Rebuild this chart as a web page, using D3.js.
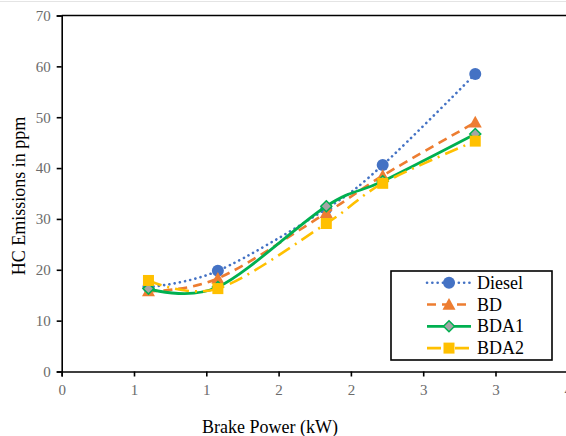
<!DOCTYPE html>
<html>
<head>
<meta charset="utf-8">
<script src="https://cdn.jsdelivr.net/npm/d3@7/dist/d3.min.js"></script>
<style>
  html, body { margin: 0; padding: 0; background: #fff; }
</style>
</head>
<body>
<svg id="chart" width="566" height="436"></svg>
<script>
// Brake power (kW) at each test load
const brakePower = [0.6, 1.08, 1.83, 2.22, 2.86];

// HC emissions (ppm) for each fuel
const diesel = [16.6, 19.8, 32.0, 40.6, 58.5];
const bd     = [15.8, 18.3, 31.2, 38.5, 49.0];
const bda1   = [16.3, 16.6, 32.5, 37.4, 46.7];
const bda2   = [17.9, 16.3, 29.1, 37.0, 45.3];

const seriesNames = ["Diesel", "BD", "BDA1", "BDA2"];

const xTicks = [0, 0.5, 1, 1.5, 2, 2.5, 3, 3.5];
const xTickLabels = ["0", "1", "1", "2", "2", "3", "3", "4"];
const yTicks = [0, 10, 20, 30, 40, 50, 60, 70];

const serif = "Liberation Serif";

const series = [
  { name: seriesNames[0], values: diesel, color: "#4472C4", dash: "0.1 5.2", cap: "round", width: 2.6, marker: "circle" },
  { name: seriesNames[1], values: bd,     color: "#ED7D31", dash: "9 6",     cap: "butt",  width: 2.6, marker: "triangle" },
  { name: seriesNames[2], values: bda1,   color: "#00B050", dash: null,      cap: "butt",  width: 2.8, marker: "diamond" },
  { name: seriesNames[3], values: bda2,   color: "#FFC000", dash: "14 6 2 6", cap: "butt", width: 2.6, marker: "square" }
];

const svg = d3.select("#chart");

const x = d3.scaleLinear().domain([0, 3.5]).range([61.7, 567.8]);
const y = d3.scaleLinear().domain([0, 70]).range([371.5, 15.5]);

// faint rule along the top edge
svg.append("line").attr("x1", 0).attr("x2", 566).attr("y1", 1.5).attr("y2", 1.5)
  .attr("stroke", "#e4e4e4").attr("stroke-width", 1);

// plot frame (top and right edges)
svg.append("path")
  .attr("d", `M${x(0)},${y(70)}H${x(3.5)}V${y(0)}`)
  .attr("fill", "none").attr("stroke", "#000").attr("stroke-width", 1.6);

// axes
const xAxis = svg.append("g").attr("transform", `translate(0,${y(0)})`)
  .call(d3.axisBottom(x).tickValues(xTicks).tickFormat((d, i) => xTickLabels[i]).tickSize(5).tickPadding(8));
const yAxis = svg.append("g").attr("transform", `translate(${x(0)},0)`)
  .call(d3.axisLeft(y).tickValues(yTicks).tickSize(5).tickPadding(6));

[xAxis, yAxis].forEach(g => {
  g.attr("font-family", serif).attr("font-size", 15);
  g.select(".domain").attr("stroke", "#000").attr("stroke-width", 1.6);
  g.selectAll(".tick line").attr("stroke", "#000").attr("stroke-width", 1.6);
  g.selectAll(".tick text").attr("fill", "#6b6b6b");
});

// axis titles
svg.append("text").attr("x", 270).attr("y", 433).attr("text-anchor", "middle")
  .attr("font-family", serif).attr("font-size", 18).attr("fill", "#000").text("Brake Power (kW)");
svg.append("text").attr("transform", "translate(25,196) rotate(-90)").attr("text-anchor", "middle")
  .attr("font-family", serif).attr("font-size", 18).attr("fill", "#000").text("HC Emissions in ppm");

const line = d3.line()
  .x(d => x(d[0])).y(d => y(d[1]))
  .curve(d3.curveCatmullRom.alpha(0));

function drawMarker(g, type, cx, cy, color) {
  if (type === "circle") {
    g.append("circle").attr("cx", cx).attr("cy", cy).attr("r", 6).attr("fill", color);
  } else if (type === "triangle") {
    const s = 6.5;
    g.append("path").attr("d", `M${cx},${cy - s}L${cx + s},${cy + s * 0.8}L${cx - s},${cy + s * 0.8}Z`).attr("fill", color);
  } else if (type === "diamond") {
    const s = 5.5;
    g.append("path").attr("d", `M${cx},${cy - s}L${cx + s},${cy}L${cx},${cy + s}L${cx - s},${cy}Z`)
      .attr("fill", "#A5A5A5").attr("stroke", color).attr("stroke-width", 1.5);
  } else if (type === "square") {
    const s = 5.5;
    g.append("rect").attr("x", cx - s).attr("y", cy - s).attr("width", 2 * s).attr("height", 2 * s).attr("fill", color);
  }
}

series.forEach(s => {
  const pts = brakePower.map((bp, i) => [bp, s.values[i]]);
  const g = svg.append("g");
  g.append("path").attr("d", line(pts)).attr("fill", "none")
    .attr("stroke", s.color).attr("stroke-width", s.width)
    .attr("stroke-dasharray", s.dash).attr("stroke-linecap", s.cap);
  pts.forEach(p => drawMarker(g, s.marker, x(p[0]), y(p[1]), s.color));
});

// legend
const legend = svg.append("g");
legend.append("rect").attr("x", 391).attr("y", 271).attr("width", 161).attr("height", 89)
  .attr("fill", "#fff").attr("stroke", "#000").attr("stroke-width", 1.6);
series.forEach((s, i) => {
  const ly = 282.7 + i * 21.8;
  legend.append("line").attr("x1", 427).attr("x2", 471).attr("y1", ly).attr("y2", ly)
    .attr("stroke", s.color).attr("stroke-width", s.width)
    .attr("stroke-dasharray", s.dash).attr("stroke-linecap", s.cap);
  drawMarker(legend, s.marker, 449, ly, s.color);
  legend.append("text").attr("x", 477).attr("y", ly + 6)
    .attr("font-family", serif).attr("font-size", 18).attr("fill", "#000").text(s.name);
});
</script>
</body>
</html>
